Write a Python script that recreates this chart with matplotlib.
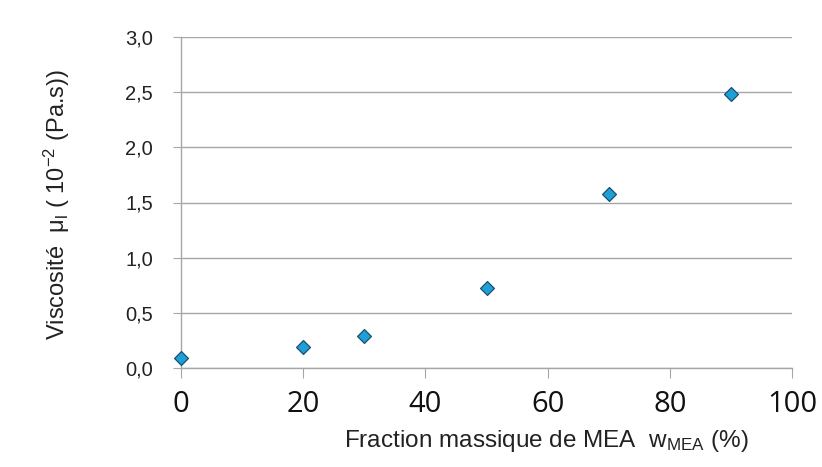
import matplotlib
matplotlib.use("Agg")
import matplotlib.pyplot as plt

plt.rcParams["mathtext.fontset"] = "custom"
plt.rcParams["mathtext.rm"] = "Liberation Sans"
plt.rcParams["mathtext.it"] = "Liberation Sans:italic"

x_mea = [0, 20, 30, 50, 70, 90]
viscosity = [0.09, 0.19, 0.29, 0.725, 1.58, 2.48]
x_ticks = [0, 20, 40, 60, 80, 100]
y_ticks = [0.0, 0.5, 1.0, 1.5, 2.0, 2.5, 3.0]
y_ticklabels = ["0,0", "0,5", "1,0", "1,5", "2,0", "2,5", "3,0"]

fig = plt.figure(figsize=(8.22, 4.67), dpi=100)
ax = fig.add_axes([181/822, 1-368/467, (792-181)/822, (368-37)/467])

ax.scatter(x_mea, viscosity, marker="D", s=50, facecolor="#1e9fd6",
           edgecolor="#1b4f72", linewidth=0.9, zorder=3, clip_on=False)

ax.set_xlim(0, 100)
ax.set_ylim(0, 3.0)
ax.set_xticks(x_ticks)
ax.set_xticklabels([str(t) for t in x_ticks], fontfamily="Open Sans", fontsize=21, color="#111111")
ax.set_yticks(y_ticks)
ax.set_yticklabels(y_ticklabels, fontfamily="Liberation Sans", fontsize=14.5, color="#222222")

ax.grid(axis="y", color="#a6a6a6", linewidth=1.0)
ax.set_axisbelow(True)
for s in ["top", "right"]:
    ax.spines[s].set_visible(False)
for s in ["left", "bottom"]:
    ax.spines[s].set_color("#a6a6a6")
    ax.spines[s].set_linewidth(1.0)
ax.tick_params(axis="y", length=6, color="#a6a6a6", pad=14)
ax.tick_params(axis="x", length=7, color="#a6a6a6", pad=9)

fig.text(57/822, 1-205/467, r"Viscosité  μ$_{\mathrm{l}}$ ( 10$^{\mathrm{-2}}$ (Pa.s))", rotation=90,
         ha="center", va="center", fontfamily="Liberation Sans", fontsize=17, color="#222222")
fig.text(546/822, 1-441/467, r"Fraction massique de MEA  w$_{\mathrm{MEA}}$ (%)",
         ha="center", va="center", fontfamily="Liberation Sans", fontsize=17.5, color="#222222")

fig.savefig("out.png", dpi=100)
